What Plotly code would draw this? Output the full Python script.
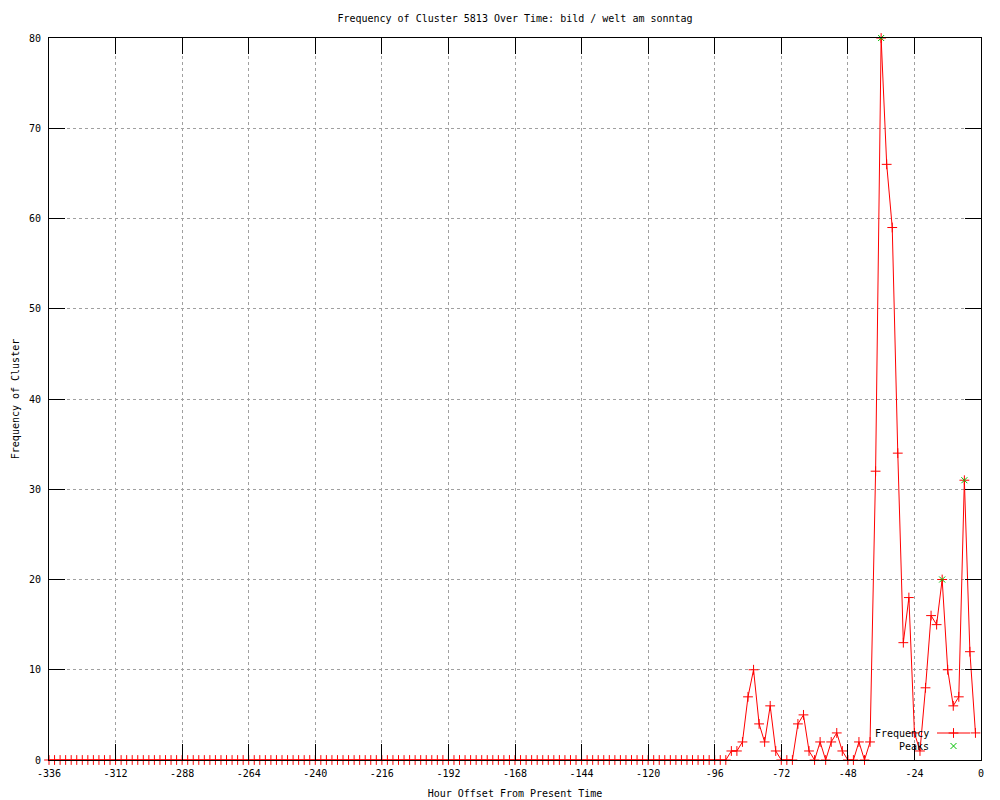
import plotly.graph_objects as go

# ---------------- data ----------------
hours = list(range(-336, 0, 2))  # hour offsets, every 2 hours from -336 to -2

frequency = [
    0, 0, 0, 0, 0, 0, 0, 0, 0, 0, 0, 0,   # -336 .. -314
    0, 0, 0, 0, 0, 0, 0, 0, 0, 0, 0, 0,   # -312 .. -290
    0, 0, 0, 0, 0, 0, 0, 0, 0, 0, 0, 0,   # -288 .. -266
    0, 0, 0, 0, 0, 0, 0, 0, 0, 0, 0, 0,   # -264 .. -242
    0, 0, 0, 0, 0, 0, 0, 0, 0, 0, 0, 0,   # -240 .. -218
    0, 0, 0, 0, 0, 0, 0, 0, 0, 0, 0, 0,   # -216 .. -194
    0, 0, 0, 0, 0, 0, 0, 0, 0, 0, 0, 0,   # -192 .. -170
    0, 0, 0, 0, 0, 0, 0, 0, 0, 0, 0, 0,   # -168 .. -146
    0, 0, 0, 0, 0, 0, 0, 0, 0, 0, 0, 0,   # -144 .. -122
    0, 0, 0, 0, 0, 0, 0, 0, 0, 0, 0, 0,   # -120 .. -98
    0, 0, 0, 1, 1, 2, 7, 10, 4, 2, 6, 1,  # -96 .. -74
    0, 0, 0, 4, 5, 1, 0, 2, 0, 2, 3, 1,   # -72 .. -50
    0, 0, 2, 0, 2, 32, 80, 66, 59, 34, 13, 18,  # -48 .. -26
    3, 1, 8, 16, 15, 20, 10, 6, 7, 31, 12, 3,   # -24 .. -2
]

peak_hours = [-36, -14, -6]
peak_values = [80, 20, 31]

x_tick_vals = [-336, -312, -288, -264, -240, -216, -192, -168, -144, -120, -96, -72, -48, -24, 0]
x_tick_text = ["-336", "-312", "-288", "-264", "-240", "-216", "-192", "-168",
               "-144", "-120", "-96", "-72", "-48", "-24", "0"]
y_tick_vals = [0, 10, 20, 30, 40, 50, 60, 70, 80]
y_tick_text = ["0", "10", "20", "30", "40", "50", "60", "70", "80"]

title_text = "Frequency of Cluster 5813 Over Time: bild / welt am sonntag"
x_title = "Hour Offset From Present Time"
y_title = "Frequency of Cluster"
legend_labels = ["Frequency", "Peaks"]

# ---------------- styling ----------------
FONT = "DejaVu Sans Mono"
FS = 10
RED = "#ff0000"
GREEN = "#00c000"
GRID = "#a0a0a0"

OFF = 8  # default page body margin of the html page
W, H = 1000 - OFF, 800 - OFF
# plot area in page pixels: x 49..981, y 38..760
L = 49 - OFF
R = 1000 - 981
T = 38 - OFF
B = 800 - 760
PW, PH = W - L - R, H - T - B


def px_x(p):  # page pixel -> paper
    return (p - OFF - L) / PW


def px_y(p):
    return (H - B - (p - OFF)) / PH


fig = go.Figure()

fig.add_trace(go.Scatter(
    x=hours, y=frequency, mode="lines+markers", name=legend_labels[0],
    line=dict(color=RED, width=1),
    marker=dict(symbol="cross-thin", size=7, line=dict(color=RED, width=1), color=RED),
    showlegend=False, cliponaxis=False,
))

fig.add_trace(go.Scatter(
    x=peak_hours, y=peak_values, mode="markers", name=legend_labels[1],
    marker=dict(symbol="x-thin", size=6, line=dict(color=GREEN, width=1), color=GREEN),
    showlegend=False, cliponaxis=False,
))

# manual gnuplot-style legend (text right-aligned, sample to the right)
leg_y = [733, 746]
for lbl, yy in zip(legend_labels, leg_y):
    fig.add_annotation(x=px_x(931), y=px_y(yy), xref="paper", yref="paper",
                       text=lbl, showarrow=False, xanchor="right", yanchor="middle",
                       font=dict(family=FONT, size=FS, color="black"))
fig.add_shape(type="line", xref="paper", yref="paper",
              x0=px_x(937), x1=px_x(970), y0=px_y(leg_y[0]), y1=px_y(leg_y[0]),
              line=dict(color=RED, width=1))
fig.add_trace(go.Scatter(
    x=[px_x(953.5)], y=[px_y(leg_y[0])], xaxis="x2", yaxis="y2", mode="markers",
    marker=dict(symbol="cross-thin", size=7, line=dict(color=RED, width=1)),
    showlegend=False, hoverinfo="skip", cliponaxis=False,
))
fig.add_trace(go.Scatter(
    x=[px_x(953.5)], y=[px_y(leg_y[1])], xaxis="x2", yaxis="y2", mode="markers",
    marker=dict(symbol="x-thin", size=6, line=dict(color=GREEN, width=1)),
    showlegend=False, hoverinfo="skip", cliponaxis=False,
))

fig.update_layout(
    width=W, height=H,
    margin=dict(l=L, r=R, t=T, b=B, pad=0, autoexpand=False),
    paper_bgcolor="white", plot_bgcolor="white",
    font=dict(family=FONT, size=FS, color="black"),
    title=dict(text=title_text, x=(L + PW / 2) / W, xanchor="center",
               y=1 - (18 - OFF) / H, yanchor="middle", yref="container",
               font=dict(family=FONT, size=FS, color="black")),
    showlegend=False,
    xaxis=dict(
        range=[-336, 0], tickmode="array", tickvals=x_tick_vals, ticktext=x_tick_text,
        ticks="inside", ticklen=16, tickwidth=1, tickcolor="black",
        showline=True, linecolor="black", linewidth=1, mirror="ticks",
        showgrid=True, gridcolor=GRID, griddash="dot", gridwidth=1,
        zeroline=False, ticklabelstandoff=4, automargin=False,
        title=dict(text=x_title, standoff=11, font=dict(family=FONT, size=FS)),
    ),
    yaxis=dict(
        range=[0, 80], tickmode="array", tickvals=y_tick_vals, ticktext=y_tick_text,
        ticks="inside", ticklen=16, tickwidth=1, tickcolor="black",
        showline=True, linecolor="black", linewidth=1, mirror="ticks",
        showgrid=True, gridcolor=GRID, griddash="dot", gridwidth=1,
        zeroline=False, ticklabelstandoff=5, automargin=False,
        title=dict(text=y_title, standoff=7, font=dict(family=FONT, size=FS)),
    ),
    xaxis2=dict(overlaying="x", range=[0, 1], visible=False, fixedrange=True),
    yaxis2=dict(overlaying="y", range=[0, 1], visible=False, fixedrange=True),
)

fig.write_html("out.html")
